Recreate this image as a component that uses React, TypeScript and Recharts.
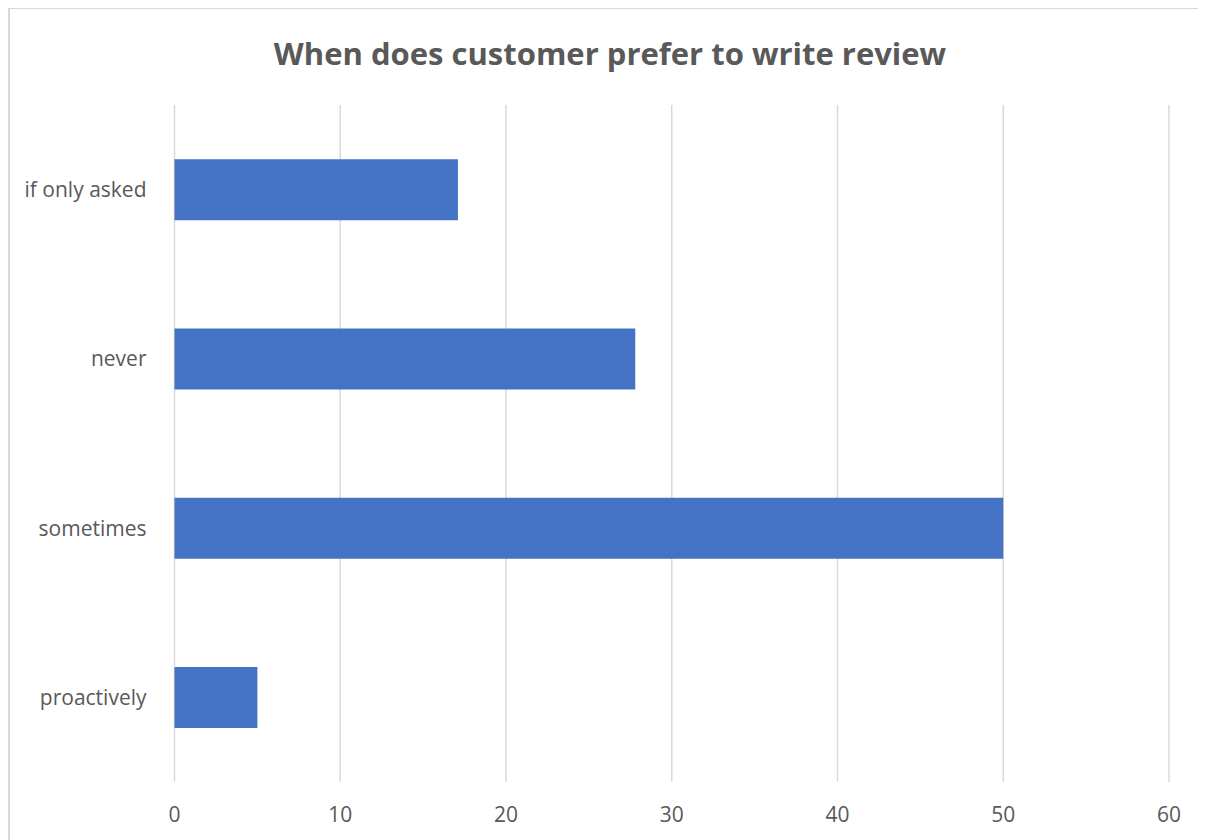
import React from "react";
import { BarChart, Bar, XAxis, YAxis, CartesianGrid } from "recharts";

const categories = ["if only asked", "never", "sometimes", "proactively"];
const values = [17.1, 27.8, 50, 5];
const xTicks = [0, 10, 20, 30, 40, 50, 60];
const title = "When does customer prefer to write review";

const data = categories.map((name, i) => ({ name, value: values[i] }));

const FONT = "'Open Sans', 'Noto Sans', sans-serif";
const TEXT = "#595959";

export default function App() {
  return (
    <div
      style={{
        position: "relative",
        width: 1210,
        height: 831,
        marginTop: -1,
        borderTop: "2px solid #d9d9d9",
        borderLeft: "2px solid #d9d9d9",
        background: "#fff",
        fontFamily: FONT,
        overflow: "hidden",
      }}
    >
      <style>{"html,body{overflow:hidden}"}</style>
      <div
        style={{
          position: "absolute",
          left: 0,
          top: 24,
          width: 1200,
          textAlign: "center",
          fontSize: 31,
          fontWeight: 700,
          color: TEXT,
          lineHeight: "40px",
          fontFamily: FONT,
        }}
      >
        {title}
      </div>
      <BarChart
        width={1196}
        height={829}
        data={data}
        layout="vertical"
        margin={{ top: 96, right: 37, bottom: 6, left: 0 }}
        barCategoryGap="32%"
      >
        <CartesianGrid horizontal={false} vertical={true} stroke="#d9d9d9" strokeWidth={1.5} />
        <XAxis
          type="number"
          domain={[0, 60]}
          ticks={xTicks}
          axisLine={false}
          tickLine={false}
          tickSize={0}
          tickMargin={25}
          height={50}
          tick={{ fill: TEXT, fontSize: 21, fontFamily: FONT }}
        />
        <YAxis
          type="category"
          dataKey="name"
          axisLine={false}
          tickLine={false}
          tickSize={0}
          tickMargin={28}
          width={164.5}
          tick={{ fill: TEXT, fontSize: 21, fontFamily: FONT }}
        />
        <Bar dataKey="value" fill="#4472c4" isAnimationActive={false} />
      </BarChart>
    </div>
  );
}
